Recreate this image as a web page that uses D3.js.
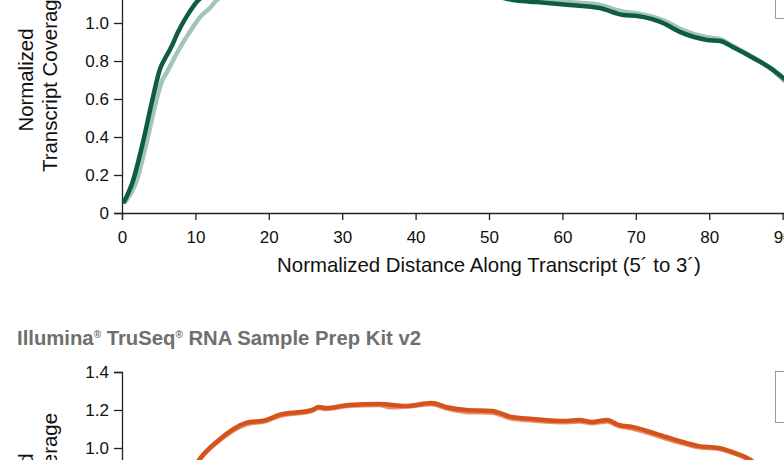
<!DOCTYPE html>
<html>
<head>
<meta charset="utf-8">
<script src="https://cdn.jsdelivr.net/npm/d3@7"></script>
<style>
  html, body { margin: 0; padding: 0; background: #fff; }
  svg { display: block; font-family: "Liberation Sans", Arial, Helvetica, sans-serif; }
</style>
</head>
<body>
<svg id="chart" width="784" height="460"></svg>
<script>
// ---------- DATA ----------
// Top panel (green) : two replicate coverage curves
const greenDarkX = [0.3, 1.5, 2.9, 4.1, 5.2, 6.1, 6.8, 7.6, 8.9, 10.4, 12, 15, 20, 25, 30, 35, 40, 45, 50, 53.8, 56.5, 61, 65.1, 68.3, 70.2, 73.7, 76, 79.7, 81.5, 83.2, 86, 88.7, 90.1, 92, 95, 98];
const greenDarkY = [0.06, 0.17, 0.38, 0.59, 0.76, 0.83, 0.88, 0.95, 1.04, 1.12, 1.16, 1.20, 1.24, 1.26, 1.26, 1.25, 1.22, 1.19, 1.15, 1.118, 1.11, 1.095, 1.079, 1.042, 1.037, 1.0, 0.953, 0.911, 0.905, 0.874, 0.816, 0.753, 0.71, 0.65, 0.55, 0.45];
const greenLightX = [0.4, 2.0, 3.4, 4.8, 5.4, 6.1, 7.9, 9.7, 10.6, 12.0, 12.9, 15, 20, 25, 30, 35, 40, 45, 50, 53.8, 56.5, 61, 65.1, 68.3, 70.2, 73.7, 76, 79.7, 81.5, 83.2, 86, 88.7, 90.1, 92, 95, 98];
const greenLightY = [0.058, 0.17, 0.38, 0.61, 0.69, 0.74, 0.87, 0.98, 1.03, 1.08, 1.12, 1.16, 1.22, 1.25, 1.26, 1.25, 1.23, 1.20, 1.16, 1.13, 1.125, 1.11, 1.095, 1.06, 1.05, 1.015, 0.97, 0.925, 0.915, 0.88, 0.82, 0.75, 0.70, 0.64, 0.54, 0.44];

// Bottom panel (orange) : Illumina TruSeq RNA Sample Prep Kit v2
const orangeDarkX = [0.5, 2, 4, 6, 8, 10.5, 13.2, 16.9, 19.6, 21.4, 25.9, 26.8, 27.8, 30.9, 35.0, 38.7, 42.2, 44.1, 46.9, 50.4, 53.1, 55.9, 60.5, 62.3, 64.0, 66.1, 67.7, 69.5, 74.1, 75.9, 78.6, 81.3, 83.1, 85.4, 88, 90, 94, 98];
const orangeDarkY = [0.05, 0.16, 0.38, 0.58, 0.76, 0.937, 1.042, 1.132, 1.147, 1.174, 1.20, 1.216, 1.21, 1.226, 1.232, 1.221, 1.237, 1.216, 1.20, 1.195, 1.163, 1.153, 1.142, 1.147, 1.137, 1.147, 1.121, 1.111, 1.058, 1.037, 1.01, 1.0, 0.979, 0.942, 0.86, 0.78, 0.62, 0.45];
const orangeLightX = [0.5, 2, 4, 6, 8, 10.5, 13.2, 16.9, 19.6, 21.4, 25.9, 26.8, 27.8, 30.9, 35.0, 36.8, 38.7, 42.2, 44.1, 46.9, 50.4, 53.1, 55.9, 60.5, 62.3, 64.0, 66.1, 67.7, 69.5, 74.1, 75.9, 78.6, 81.3, 83.1, 85.4, 88, 90, 94, 98];
const orangeLightY = [0.05, 0.16, 0.38, 0.58, 0.76, 0.935, 1.038, 1.125, 1.142, 1.168, 1.196, 1.21, 1.205, 1.222, 1.226, 1.214, 1.218, 1.23, 1.21, 1.19, 1.185, 1.155, 1.145, 1.135, 1.14, 1.13, 1.14, 1.115, 1.103, 1.05, 1.03, 1.004, 0.996, 0.975, 0.938, 0.855, 0.775, 0.615, 0.445];

const xTicks = [0, 10, 20, 30, 40, 50, 60, 70, 80, 90, 100];
const yTicks = [0, 0.2, 0.4, 0.6, 0.8, 1.0, 1.2, 1.4];
const xTitle = "Normalized Distance Along Transcript (5\u00B4 to 3\u00B4)";
const yTitle1 = "Normalized";
const yTitle2 = "Transcript Coverage";
const bottomTitle = ["Illumina", "\u00AE", " TruSeq", "\u00AE", " RNA Sample Prep Kit v2"];

// ---------- DRAW ----------
const svg = d3.select("#chart");
const colors = {
  greenDark: "#0e5b46", greenLight: "#a3c5b8",
  orangeDark: "#d4531d", orangeLight: "#e8916c"
};

function panel(offsetY, series, legendH) {
  const g = svg.append("g").attr("transform", `translate(0,${offsetY})`);
  const x = d3.scaleLinear().domain([0, 100]).range([122, 856]);
  const y = d3.scaleLinear().domain([0, 1.4]).range([213, -53]);

  // y axis
  const ya = g.append("g").attr("transform", "translate(122,0)")
    .call(d3.axisLeft(y).tickValues(yTicks).tickSize(8).tickPadding(5)
      .tickFormat(d => d === 0 ? "0" : d3.format(".1f")(d)));
  // x axis
  const xa = g.append("g").attr("transform", "translate(0,213)")
    .call(d3.axisBottom(x).tickValues(xTicks).tickSize(7).tickPadding(11)
      .tickFormat(d3.format("d")));
  [ya, xa].forEach(a => {
    a.selectAll("path, line").attr("stroke", "#222").attr("stroke-width", 1.3);
    a.selectAll("text").attr("fill", "#111").style("font-size", "17px")
      .style("font-family", "'Liberation Sans', Arial, sans-serif");
  });

  // titles
  g.append("text").attr("x", 489).attr("y", 272).attr("text-anchor", "middle")
    .attr("fill", "#111").style("font-size", "20.4px").text(xTitle);
  const yt = g.append("g").attr("transform", `translate(0,${(y(0) + y(1.4)) / 2})`);
  yt.append("text").attr("transform", "translate(33,0) rotate(-90)").attr("text-anchor", "middle")
    .attr("fill", "#111").style("font-size", "20.4px").text(yTitle1);
  yt.append("text").attr("transform", "translate(57,0) rotate(-90)").attr("text-anchor", "middle")
    .attr("fill", "#111").style("font-size", "20.4px").text(yTitle2);

  // lines
  const line = d3.line().x(d => x(d[0])).y(d => y(d[1])).curve(d3.curveMonotoneX);
  series.forEach(s => {
    g.append("path").datum(d3.zip(s.xs, s.ys))
      .attr("d", line).attr("fill", "none").attr("stroke", s.color)
      .attr("stroke-width", 4.5).attr("stroke-linejoin", "round").attr("stroke-linecap", "round");
  });

  // legend frame (contents are outside the visible area)
  g.append("rect").attr("x", 775.5).attr("y", y(1.4) - 0.5).attr("width", 60).attr("height", legendH)
    .attr("fill", "none").attr("stroke", "#9a9a9a").attr("stroke-width", 1);
  return g;
}

panel(0, [
  { xs: greenLightX, ys: greenLightY, color: colors.greenLight },
  { xs: greenDarkX, ys: greenDarkY, color: colors.greenDark }
], 72);

panel(425, [
  { xs: orangeLightX, ys: orangeLightY, color: colors.orangeLight },
  { xs: orangeDarkX, ys: orangeDarkY, color: colors.orangeDark }
], 51);

// bottom panel heading
const t = svg.append("text").attr("x", 17).attr("y", 345).attr("fill", "#6f6f6f")
  .style("font-size", "20.3px").style("font-weight", "bold");
bottomTitle.forEach(s => {
  if (s === "\u00AE") {
    t.append("tspan").attr("dy", -7).style("font-size", "10px").text(s);
  } else {
    const prevSup = t.selectAll("tspan").size() > 0;
    t.append("tspan").attr("dy", prevSup ? 7 : 0).text(s);
  }
});
</script>
</body>
</html>
